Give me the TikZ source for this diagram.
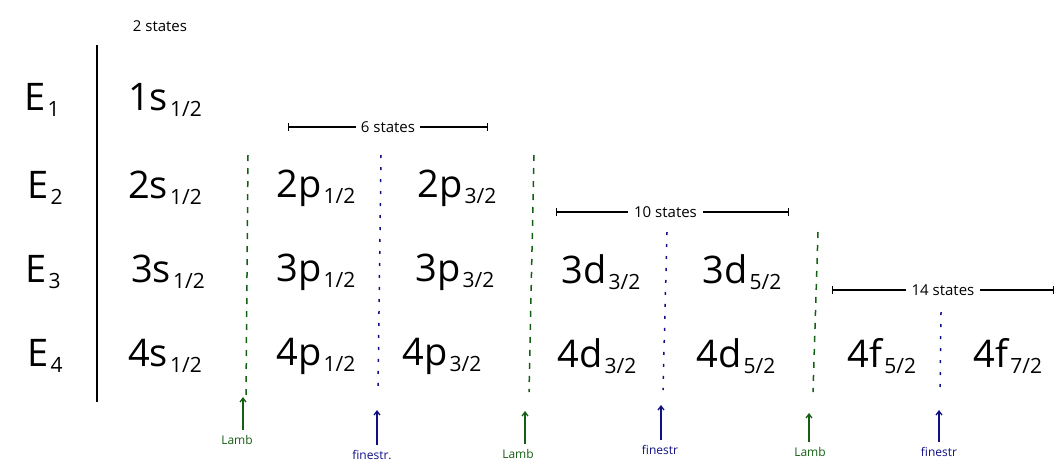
\documentclass[tikz,border=0pt]{standalone}
\usepackage{fontspec}
\setmainfont{Open Sans}
\usetikzlibrary{arrows.meta}
\definecolor{lambgreen}{RGB}{20,95,20}
\definecolor{fsblue}{RGB}{15,15,130}
% level name with a small, lowered j subscript
\newcommand{\lvl}[2]{#1\kern2pt\raisebox{-6pt}{\fontsize{21}{22}\selectfont #2}}
\tikzset{
  big/.style={font=\fontsize{38}{40}\selectfont, inner sep=0pt},
  small/.style={font=\fontsize{15}{17}\selectfont, inner sep=1pt},
  tiny/.style={font=\fontsize{12}{14}\selectfont, inner sep=1pt},
  lambsep/.style={lambgreen, line width=1.5pt, dash pattern=on 6pt off 7pt},
  finesep/.style={fsblue, line width=1.5pt, dash pattern=on 3pt off 9pt},
  lambarrow/.style={lambgreen, line width=1.3pt, -{Straight Barb[length=4pt,width=6pt]}},
  finearrow/.style={fsblue, line width=1.3pt, -{Straight Barb[length=4pt,width=6pt]}},
  bracket/.style={line width=1.2pt, {Bar[width=8pt]}-{Bar[width=8pt]}},
}
\begin{document}
\begin{tikzpicture}[x=1pt, y=-1pt]
\useasboundingbox (0,0) rectangle (1059,464);

% energy axis
\coordinate (axtop) at (97,45);
\coordinate (axbot) at (97,402);
\draw[line width=2pt] (axtop) -- (axbot);

\node[small] (two) at (160,26) {2 states};

\node[big] (e1) at (42,100) {\lvl{E}{1}};
\node[big] (e2) at (45,188) {\lvl{E}{2}};
\node[big] (e3) at (43,272) {\lvl{E}{3}};
\node[big] (e4) at (45,356) {\lvl{E}{4}};

% s column
\node[big] (s1) at (165,100) {\lvl{1s}{1/2}};
\node[big] (s2) at (165,188) {\lvl{2s}{1/2}};
\node[big] (s3) at (168,272) {\lvl{3s}{1/2}};
\node[big] (s4) at (165,356) {\lvl{4s}{1/2}};

% p columns
\node[big] (p12b) at (316,188) {\lvl{2p}{1/2}};
\node[big] (p12c) at (316,272) {\lvl{3p}{1/2}};
\node[big] (p12d) at (316,356) {\lvl{4p}{1/2}};
\node[big] (p32b) at (457,188) {\lvl{2p}{3/2}};
\node[big] (p32c) at (455,272) {\lvl{3p}{3/2}};
\node[big] (p32d) at (442,356) {\lvl{4p}{3/2}};

% d columns
\node[big] (d32c) at (601,272) {\lvl{3d}{3/2}};
\node[big] (d32d) at (597,356) {\lvl{4d}{3/2}};
\node[big] (d52c) at (742,272) {\lvl{3d}{5/2}};
\node[big] (d52d) at (736,356) {\lvl{4d}{5/2}};

% f columns
\node[big] (f52) at (882,356) {\lvl{4f}{5/2}};
\node[big] (f72) at (1008,356) {\lvl{4f}{7/2}};

% separators
\coordinate (la1) at (248,155); \coordinate (lb1) at (246,395);
\coordinate (fa1) at (381,155); \coordinate (fb1) at (378,390);
\coordinate (la2) at (534,155); \coordinate (lb2) at (529,392);
\coordinate (fa2) at (667,232); \coordinate (fb2) at (663,390);
\coordinate (la3) at (818,232); \coordinate (lb3) at (813,392);
\coordinate (fa3) at (941,312); \coordinate (fb3) at (940,395);
\draw[lambsep] (la1) -- (lb1);
\draw[finesep] (fa1) -- (fb1);
\draw[lambsep] (la2) -- (lb2);
\draw[finesep] (fa2) -- (fb2);
\draw[lambsep] (la3) -- (lb3);
\draw[finesep] (fa3) -- (fb3);

% state counts
\coordinate (b6l) at (288,127); \coordinate (b6r) at (488,127);
\coordinate (b10l) at (556,212); \coordinate (b10r) at (789,212);
\coordinate (b14l) at (832,290); \coordinate (b14r) at (1054,290);
\draw[bracket] (b6l) -- node[small, fill=white, inner xsep=5pt] (six) {6 states} (b6r);
\draw[bracket] (b10l) -- node[small, fill=white, inner xsep=6pt, pos=0.47] (ten) {10 states} (b10r);
\draw[bracket] (b14l) -- node[small, fill=white, inner xsep=6pt, pos=0.5] (fourteen) {14 states} (b14r);

% splitting labels
\node[tiny, lambgreen] (lamb1) at (237,440) {Lamb};
\node[tiny, fsblue] (fine1) at (372,455) {finestr.};
\node[tiny, lambgreen] (lamb2) at (518,454) {Lamb};
\node[tiny, fsblue] (fine2) at (660,450) {finestr};
\node[tiny, lambgreen] (lamb3) at (810,452) {Lamb};
\node[tiny, fsblue] (fine3) at (939,452) {finestr};

\coordinate (t1) at (243,397);
\coordinate (t2) at (377,410);
\coordinate (t3) at (525,411);
\coordinate (t4) at (661,405);
\coordinate (t5) at (809,413);
\coordinate (t6) at (939,410);
\draw[lambarrow] (lamb1.north -| t1) ++(0,-4) -- (t1);
\draw[finearrow] (fine1.north -| t2) ++(0,-4) -- (t2);
\draw[lambarrow] (lamb2.north -| t3) ++(0,-4) -- (t3);
\draw[finearrow] (fine2.north -| t4) ++(0,-4) -- (t4);
\draw[lambarrow] (lamb3.north -| t5) ++(0,-4) -- (t5);
\draw[finearrow] (fine3.north -| t6) ++(0,-4) -- (t6);
\end{tikzpicture}
\end{document}
